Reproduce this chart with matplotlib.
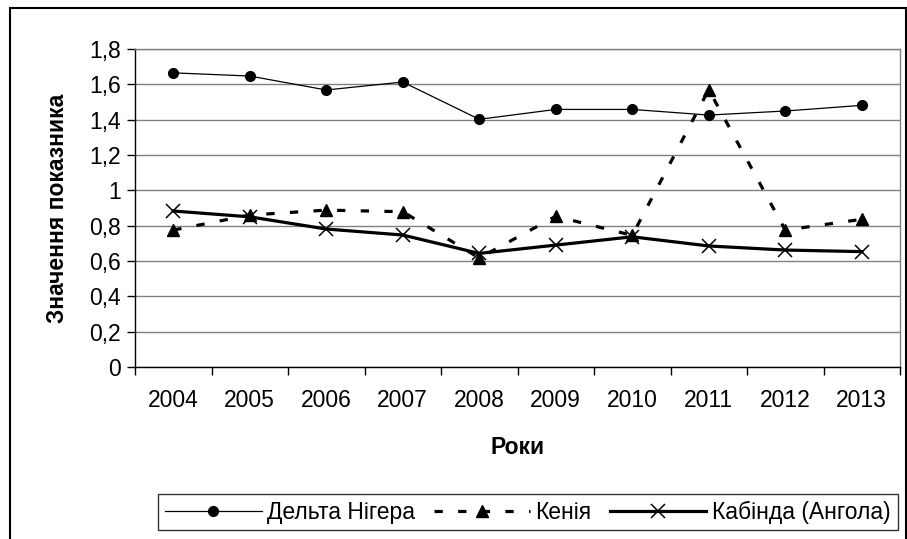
import matplotlib

matplotlib.use("Agg")
import matplotlib.pyplot as plt
from matplotlib.patches import Rectangle
from matplotlib.ticker import FixedLocator, NullFormatter

plt.rcParams["font.family"] = ["Liberation Sans", "DejaVu Sans"]

years = ["2004", "2005", "2006", "2007", "2008", "2009", "2010", "2011", "2012", "2013"]
delta_niger = [1.665, 1.647, 1.568, 1.613, 1.402, 1.458, 1.458, 1.426, 1.449, 1.481]
kenya = [0.775, 0.86, 0.888, 0.879, 0.617, 0.853, 0.745, 1.57, 0.775, 0.836]
kabinda = [0.883, 0.85, 0.781, 0.747, 0.643, 0.69, 0.737, 0.685, 0.662, 0.653]
y_ticks = [0, 0.2, 0.4, 0.6, 0.8, 1.0, 1.2, 1.4, 1.6, 1.8]
y_labels = ["0", "0,2", "0,4", "0,6", "0,8", "1", "1,2", "1,4", "1,6", "1,8"]

FS = 16.5

fig = plt.figure(figsize=(9.07, 5.39), dpi=100)
fig.patches.append(Rectangle((10 / 907, -0.02), 896 / 907, 1 - 8 / 539 + 0.02,
                             transform=fig.transFigure, fill=False,
                             edgecolor="black", linewidth=1.5))

ax = fig.add_axes([135 / 907, (539 - 367) / 539, 765 / 907, 318 / 539])
x = range(len(years))

ax.plot(x, delta_niger, color="black", linewidth=0.9, marker="o",
        markersize=7, label="Дельта Нігера", zorder=3)
ax.plot(x, kenya, color="black", linewidth=2.3, linestyle=(0, (2.6, 4.8)),
        marker="^", markersize=8, label="Кенія", zorder=3)
ax.plot(x, kabinda, color="black", linewidth=2.3, marker="x",
        markersize=10.5, markeredgewidth=1.1, label="Кабінда (Ангола)", zorder=3)

ax.set_xlim(-0.5, len(years) - 0.5)
ax.set_ylim(0, 1.8)
ax.set_yticks(y_ticks)
ax.set_yticklabels(y_labels, fontsize=FS)
ax.yaxis.grid(True, color="#808080", linewidth=1.0)
ax.set_axisbelow(True)

ax.xaxis.set_major_locator(FixedLocator([i - 0.5 for i in range(len(years) + 1)]))
ax.xaxis.set_major_formatter(NullFormatter())
ax.xaxis.set_minor_locator(FixedLocator(list(x)))
ax.set_xticklabels(years, minor=True, fontsize=FS)
ax.tick_params(axis="x", which="major", length=6, direction="out", width=1)
ax.tick_params(axis="x", which="minor", length=0, pad=16)
ax.tick_params(axis="y", length=6, width=1, pad=4)

ax.spines["left"].set_color("black")
ax.spines["bottom"].set_color("black")
ax.spines["top"].set_color("#808080")
ax.spines["right"].set_color("#808080")
for s in ax.spines.values():
    s.set_linewidth(1.0)

ax.set_xlabel("Роки", fontsize=FS, fontweight="bold", labelpad=17)
ax.set_ylabel("Значення показника", fontsize=FS, fontweight="bold", labelpad=15)

leg = fig.legend(loc="center", bbox_to_anchor=(528 / 907, 1 - 512 / 539), ncol=3,
                 fontsize=FS, frameon=True, fancybox=False, handlelength=4.2,
                 columnspacing=0.8, handletextpad=0.25, borderpad=0.3,
                 borderaxespad=0.0)
leg.get_frame().set_edgecolor("black")
leg.get_frame().set_linewidth(1.0)

fig.savefig("out.png", dpi=100)
